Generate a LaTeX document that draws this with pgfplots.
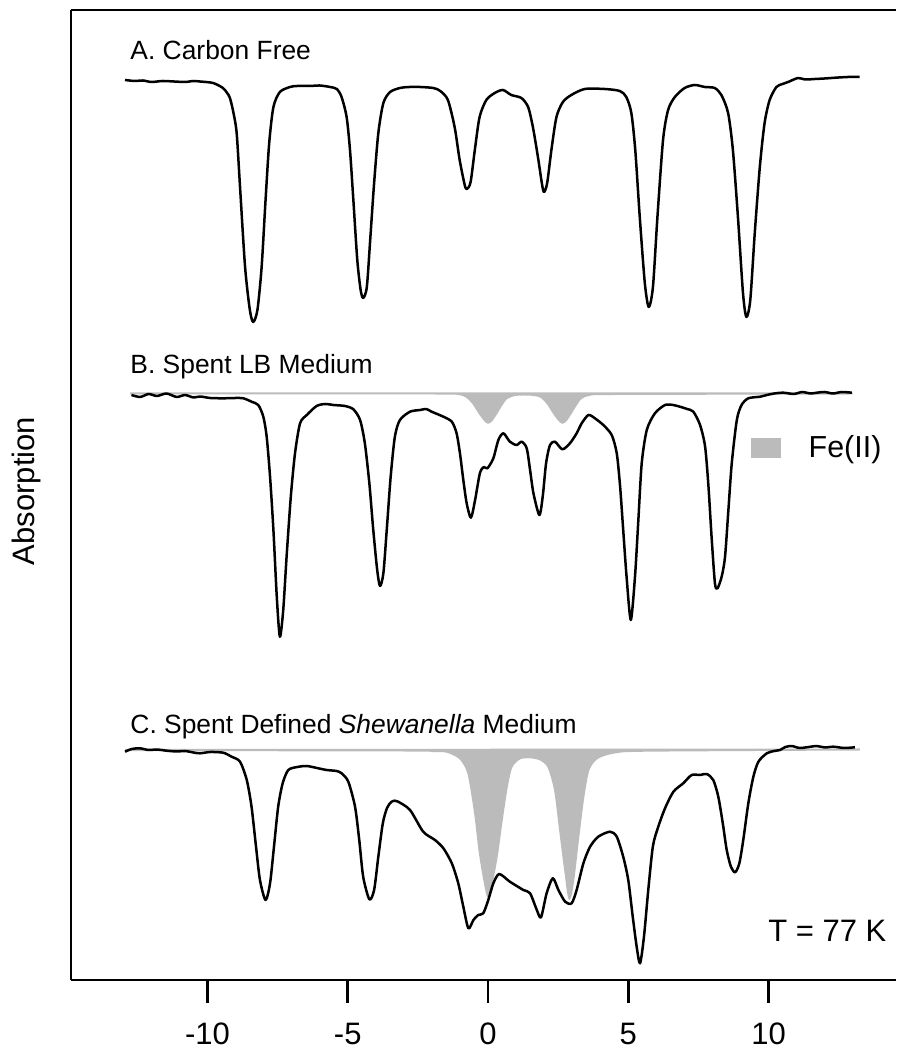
\documentclass[border=0pt]{standalone}
\usepackage{pgfplots}
\pgfplotsset{compat=1.18}
\usepackage{fontspec}
\setmainfont{Liberation Sans}
\definecolor{fe}{RGB}{187,187,187}
\begin{document}
\begin{tikzpicture}
\begin{axis}[
  scale only axis, width=412.5pt, height=485pt,
  xmin=-14.866, xmax=14.545, ymin=-980, ymax=-10,
  axis x line*=bottom, axis y line*=left,
  axis line style={line width=1.4pt},
  ytick=\empty,
  xtick={-10,-5,0,5,10}, xticklabels={-10,-5,0,5,10},
  tick align=outside, major tick length=11.5pt,
  major tick style={line width=1.4pt, black},
  xticklabel style={font=\fontsize{15.5}{18}\selectfont, anchor=base, yshift=-20.5pt},
  clip=false,
]
% ---------- A: Carbon Free ----------
\addplot[black, line width=1.25pt, smooth, tension=0.45, line join=round] coordinates {
(-12.94,-80) (-12.6,-81) (-12.3,-80.5) (-12.0,-82) (-11.6,-81) (-11.2,-81.5) (-10.8,-82) (-10.5,-81) (-10.27,-81.5)
(-9.8,-83) (-9.45,-88) (-9.3,-93) (-9.2,-98) (-9.08,-112) (-8.96,-133) (-8.84,-187) (-8.66,-267) (-8.49,-310) (-8.37,-322)
(-8.22,-310) (-8.07,-267) (-7.93,-200) (-7.8,-143) (-7.65,-107) (-7.42,-92) (-7.06,-87) (-6.8,-86) (-6.35,-86) (-6.0,-85.5)
(-5.63,-87) (-5.39,-89) (-5.22,-97) (-5.04,-117) (-4.92,-150) (-4.8,-200) (-4.66,-260) (-4.54,-290) (-4.45,-298) (-4.32,-287)
(-4.2,-240) (-4.06,-183) (-3.91,-133) (-3.73,-103) (-3.49,-92) (-3.14,-88) (-2.8,-87) (-2.42,-87) (-1.95,-88) (-1.7,-91)
(-1.43,-100) (-1.19,-127) (-1.01,-160) (-0.83,-185) (-0.75,-189) (-0.62,-182) (-0.47,-150) (-0.3,-117) (-0.06,-100) (0.24,-93)
(0.53,-90) (0.83,-95) (1.19,-98) (1.43,-107) (1.6,-127) (1.78,-157) (1.93,-185) (2.0,-192) (2.11,-183) (2.26,-150) (2.44,-117)
(2.67,-102) (2.97,-95) (3.45,-89) (4.16,-89) (4.7,-91) (4.93,-97) (5.11,-113) (5.25,-150) (5.41,-217) (5.59,-283) (5.73,-307)
(5.88,-287) (6.04,-217) (6.24,-140) (6.42,-110) (6.66,-97) (7.01,-88) (7.37,-85) (7.73,-87) (8.08,-88) (8.32,-95) (8.56,-113)
(8.73,-150) (8.91,-217) (9.09,-293) (9.21,-317) (9.35,-300) (9.51,-233) (9.69,-167) (9.86,-123) (10.04,-100) (10.28,-87)
(10.5,-84) (10.7,-82) (11.05,-78) (11.3,-79.5) (11.65,-79) (12.0,-78.5) (12.24,-78) (12.5,-77.5) (12.83,-77) (13.25,-77)
};
% ---------- B: Fe(II) ----------
\addplot[draw=fe, fill=fe, line width=1pt, smooth, tension=0.45] coordinates {
(-12.76,-393.5) (-2.0,-393.5) (-1.07,-394) (-0.77,-396.7) (-0.53,-403.3) (-0.3,-413.3) (-0.12,-420) (0.0,-422.7) (0.12,-420.7)
(0.3,-413.3) (0.48,-405) (0.66,-398.3) (0.96,-395) (1.33,-394.5) (1.63,-395) (1.88,-396.7) (2.12,-403.3) (2.35,-413.3)
(2.53,-420) (2.65,-422.7) (2.77,-420.7) (2.95,-413.3) (3.13,-405) (3.31,-398.3) (3.61,-395) (4.5,-394) (13.0,-393.5)
} -- cycle;
% ---------- B: Spent LB Medium ----------
\addplot[black, line width=1.25pt, smooth, tension=0.45, line join=round] coordinates {
(-12.71,-395) (-12.4,-397) (-12.1,-394) (-11.8,-396) (-11.46,-393.5) (-11.1,-397) (-10.8,-395) (-10.5,-397.5) (-10.27,-396.5)
(-9.9,-398) (-9.44,-398.3) (-9.0,-398) (-8.72,-398.3) (-8.43,-401.7) (-8.19,-405) (-8.01,-416.7) (-7.89,-436.7) (-7.77,-476.7)
(-7.65,-530) (-7.53,-596.7) (-7.42,-636.7) (-7.3,-610) (-7.18,-556.7) (-7.03,-496.7) (-6.88,-453.3) (-6.7,-423.3) (-6.46,-415)
(-6.11,-406) (-5.8,-404) (-5.51,-405) (-5.1,-406) (-4.8,-409.3) (-4.56,-420) (-4.39,-443.3) (-4.23,-483.3) (-4.09,-530)
(-3.95,-570) (-3.85,-586) (-3.73,-573.3) (-3.61,-530) (-3.47,-476.7) (-3.32,-436.7) (-3.14,-420) (-2.78,-411.7) (-2.42,-410)
(-2.2,-409) (-2.01,-411.7) (-1.59,-416.7) (-1.29,-421.7) (-1.12,-433.3) (-1.0,-453.3) (-0.88,-480) (-0.76,-503.3) (-0.61,-517.7)
(-0.46,-500) (-0.29,-473.3) (-0.15,-467) (-0.02,-468.3) (0.19,-458.3) (0.37,-440) (0.55,-433.3) (0.78,-441.7) (1.02,-445)
(1.2,-441.7) (1.38,-448.3) (1.5,-470) (1.62,-493.3) (1.83,-515) (1.95,-496.7) (2.07,-463.3) (2.21,-445) (2.39,-441.7)
(2.65,-449.3) (2.92,-443.3) (3.16,-433.3) (3.34,-423.3) (3.58,-415) (3.81,-418.3) (4.11,-425) (4.41,-435) (4.59,-453.3)
(4.71,-486.7) (4.82,-530) (4.94,-576.7) (5.09,-620) (5.24,-576.7) (5.36,-520) (5.48,-463.3) (5.66,-430) (5.95,-413.3)
(6.31,-405) (6.6,-405) (6.84,-406.7) (7.1,-409) (7.32,-411.7) (7.56,-425) (7.74,-446.7) (7.86,-486.7) (7.97,-536.7)
(8.09,-583.3) (8.18,-588.3) (8.33,-576.7) (8.45,-556.7) (8.57,-510) (8.69,-463.3) (8.87,-420) (9.04,-405) (9.28,-398.3)
(9.7,-396.7) (9.94,-395) (10.2,-393.5) (10.53,-392.7) (10.9,-394) (11.2,-392) (11.5,-393.5) (11.72,-392.7) (12.0,-392)
(12.3,-393.5) (12.6,-392) (12.97,-392.7)
};
% ---------- C: Fe(II) ----------
\addplot[draw=fe, fill=fe, line width=1pt, smooth, tension=0.45] coordinates {
(-12.94,-750) (-3.0,-750.5) (-2.0,-751) (-1.47,-751.7) (-1.0,-758.3) (-0.7,-773.3) (-0.46,-813.3) (-0.29,-853.3) (-0.11,-883.3)
(0.01,-896.7) (0.13,-883.3) (0.31,-856.7) (0.49,-820) (0.67,-786.7) (0.84,-766.7) (1.14,-758.3) (1.5,-757.3) (1.85,-759.3)
(2.15,-766.7) (2.39,-790) (2.57,-830) (2.75,-870) (2.9,-898.3) (3.04,-880) (3.22,-836.7) (3.4,-796.7) (3.58,-770)
(3.88,-758.3) (4.47,-752.7) (5.66,-750.7) (13.26,-749.5)
} -- cycle;
% ---------- C: Spent Defined Shewanella Medium ----------
\addplot[black, line width=1.25pt, smooth, tension=0.45, line join=round] coordinates {
(-12.94,-751.7) (-12.7,-749) (-12.41,-748.3) (-12.1,-750) (-11.8,-749.5) (-11.46,-750.7) (-11.1,-751.5) (-10.8,-751)
(-10.5,-752.5) (-10.27,-753.3) (-9.9,-752) (-9.44,-752.7) (-9.14,-756.7) (-8.84,-761.7) (-8.6,-780) (-8.43,-806.7)
(-8.27,-846.7) (-8.13,-880) (-7.93,-900) (-7.77,-883.3) (-7.63,-846.7) (-7.48,-806.7) (-7.32,-783.3) (-7.12,-770)
(-6.8,-767) (-6.46,-766) (-6.1,-768) (-5.75,-770) (-5.4,-771) (-5.22,-773.3) (-4.98,-781.7) (-4.74,-806.7) (-4.59,-840)
(-4.45,-876.7) (-4.23,-899.3) (-4.06,-890) (-3.91,-856.7) (-3.75,-823.3) (-3.6,-808) (-3.45,-802) (-3.32,-800.7) (-3.2,-801.7)
(-2.78,-810) (-2.31,-831.7) (-1.89,-840) (-1.59,-848.3) (-1.29,-863.3) (-1.06,-883.3) (-0.88,-906.7) (-0.7,-928.3)
(-0.52,-920) (-0.35,-915) (-0.17,-913.3) (0.01,-900) (0.19,-883.3) (0.4,-874) (0.78,-881.7) (1.26,-890) (1.5,-893.3)
(1.74,-910) (1.89,-917.3) (2.09,-893.3) (2.31,-878.3) (2.51,-890) (2.75,-901.7) (2.98,-903.3) (3.16,-890) (3.4,-863.3)
(3.64,-846.7) (3.93,-836.7) (4.35,-831.7) (4.59,-836.7) (4.82,-856.7) (5.0,-880) (5.16,-916.7) (5.3,-946.7) (5.42,-963.3)
(5.56,-936.7) (5.72,-888) (5.88,-846) (6.07,-826.7) (6.31,-808.3) (6.61,-791.7) (6.96,-783.3) (7.26,-775) (7.56,-775)
(7.8,-774) (8.03,-780) (8.21,-796.7) (8.37,-823.3) (8.51,-850) (8.66,-866.7) (8.81,-872.3) (8.96,-863.3) (9.1,-840)
(9.28,-803.3) (9.46,-776.7) (9.64,-761.7) (9.94,-753.3) (10.2,-751) (10.41,-750) (10.6,-747) (10.83,-746) (11.1,-748)
(11.36,-747.3) (11.72,-746) (12.0,-747.5) (12.31,-746.7) (12.7,-748) (13.08,-747.3)
};
% ---------- frame top line ----------
\draw[line width=1.4pt] (axis cs:-14.866,-10) -- (axis cs:14.545,-10);
% ---------- texts ----------
\node[anchor=base west, inner sep=0, font=\fontsize{13.2}{16}\selectfont] at (axis cs:-12.76,-60) {A. Carbon Free};
\node[anchor=base west, inner sep=0, font=\fontsize{13.2}{16}\selectfont] at (axis cs:-12.76,-374) {B. Spent LB Medium};
\node[anchor=base west, inner sep=0, font=\fontsize{13.2}{16}\selectfont] at (axis cs:-12.76,-734) {C. Spent Defined \textit{Shewanella} Medium};
\fill[fe] (axis cs:9.37,-438.3) rectangle (axis cs:10.43,-458.3);
\node[anchor=base west, inner sep=0, font=\fontsize{15.2}{18}\selectfont] at (axis cs:11.42,-457.7) {Fe(II)};
\node[anchor=base west, inner sep=0, font=\fontsize{15.5}{18}\selectfont] at (axis cs:9.98,-941.7) {T = 77 K};
\node[anchor=base, rotate=90, inner sep=0, font=\fontsize{15.5}{18}\selectfont] at (axis cs:-16.15,-491) {Absorption};
\coordinate (bbsw) at (axis cs:-17.397,-1050);
\coordinate (bbne) at (axis cs:14.545,0);
\end{axis}
\pgfresetboundingbox
\path[use as bounding box] (bbsw) rectangle (bbne);
\end{tikzpicture}
\end{document}
